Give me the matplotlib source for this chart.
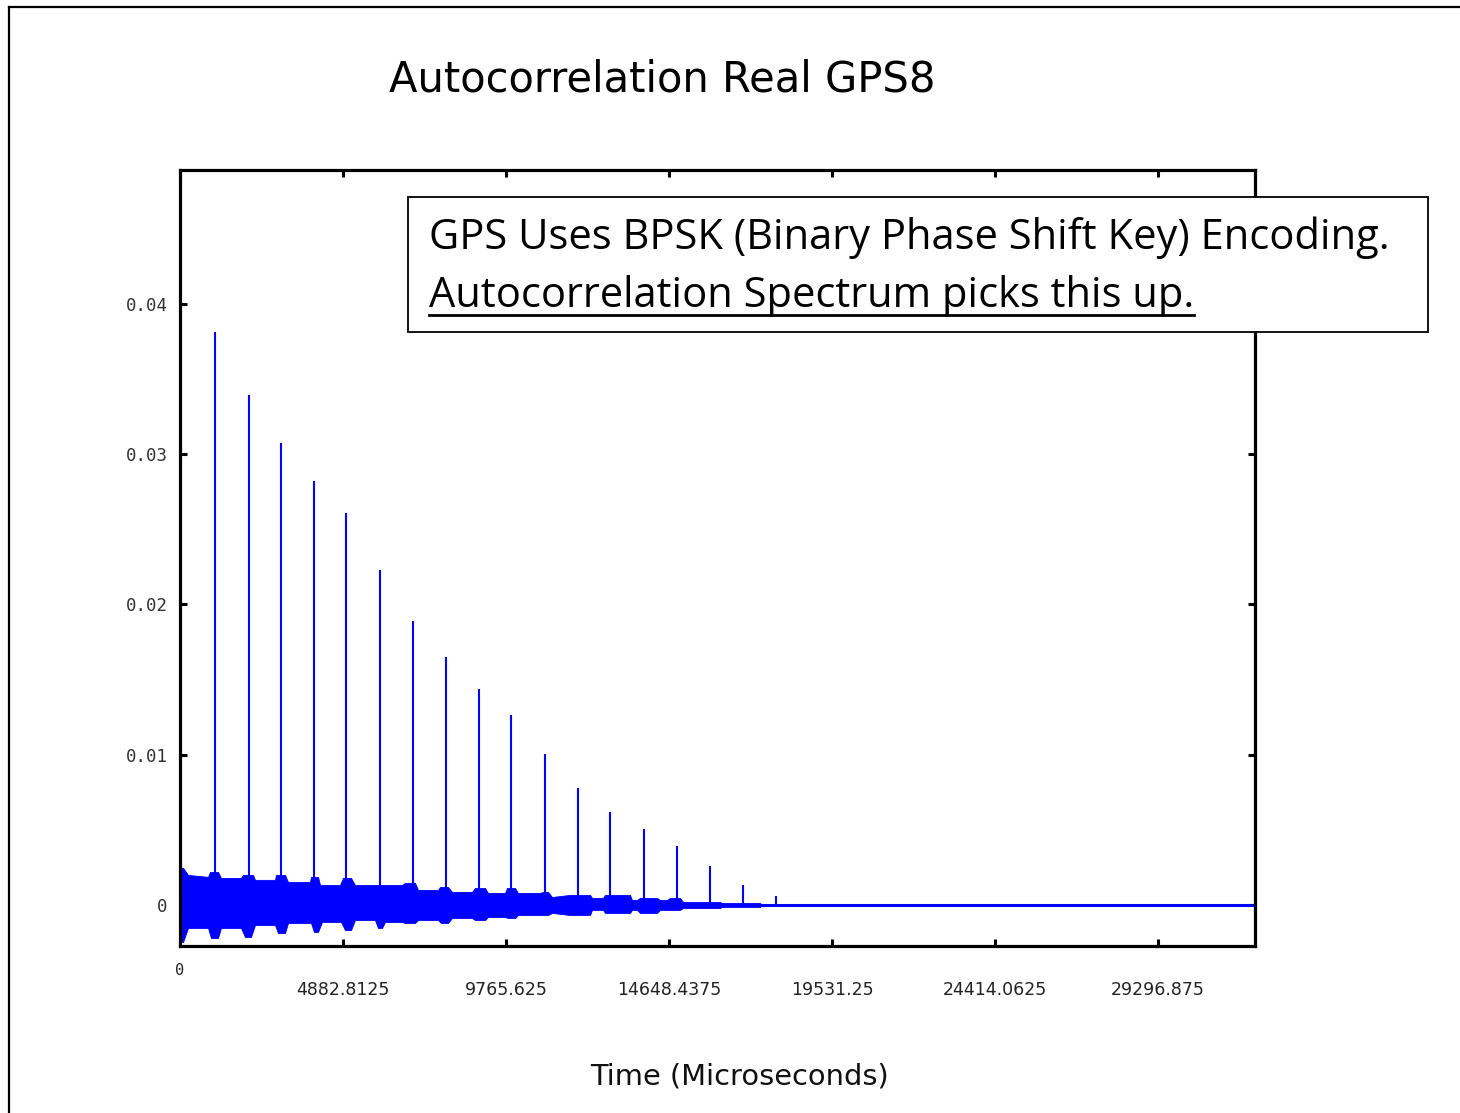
import matplotlib
matplotlib.use("Agg")
import matplotlib.pyplot as plt
from matplotlib.lines import Line2D
from matplotlib.patches import Rectangle

# ---------------- data ----------------
peak_x = [1048, 2067, 3026, 4014, 4973, 5991, 6980, 7968, 8957, 9915,
          10934, 11922, 12881, 13900, 14888, 15877, 16865, 17854]
peak_h = [0.03813, 0.03393, 0.03073, 0.02820, 0.02607, 0.02227, 0.01887,
          0.01647, 0.01440, 0.01267, 0.01007, 0.00780, 0.00620, 0.00507,
          0.00393, 0.00260, 0.00133, 0.00060]

# upper envelope of the dense noise band
upper_x = [0, 90, 240, 839, 899, 1138, 1228, 1827, 1887, 2187, 2247, 2846,
           2876, 3145, 3235, 3894, 3924, 4134, 4194, 4793, 4883, 5122, 5242,
           6650, 6740, 7040, 7130, 7729, 7789, 8028, 8148, 8747, 8837, 9137,
           9226, 9736, 9796, 10035, 10125, 10784, 10874, 11024, 11144, 11683,
           12282, 12342, 12671, 12731, 13480, 13540, 13690, 13780, 14289,
           14379, 14588, 14678, 14978, 15068, 16176, 16236, 17374, 17434]
upper_y = [0.00247, 0.00247, 0.00200, 0.00187, 0.00220, 0.00220, 0.00180,
           0.00180, 0.00200, 0.00200, 0.00167, 0.00167, 0.00200, 0.00200,
           0.00153, 0.00153, 0.00187, 0.00187, 0.00133, 0.00133, 0.00180,
           0.00180, 0.00133, 0.00133, 0.00147, 0.00147, 0.00100, 0.00100,
           0.00120, 0.00120, 0.00087, 0.00087, 0.00113, 0.00113, 0.00080,
           0.00080, 0.00113, 0.00113, 0.00080, 0.00080, 0.00087, 0.00087,
           0.00053, 0.00067, 0.00067, 0.00047, 0.00047, 0.00067, 0.00067,
           0.00033, 0.00033, 0.00047, 0.00047, 0.00033, 0.00033, 0.00047,
           0.00047, 0.00020, 0.00020, 0.00013, 0.00013, 0.0]

# lower envelope of the dense noise band
lower_x = [0, 90, 240, 839, 929, 1138, 1228, 1827, 1947, 2127, 2247, 2846,
           2936, 3145, 3235, 3924, 4014, 4134, 4254, 4823, 4943, 5122, 5242,
           5841, 5931, 6051, 6141, 6650, 6740, 7040, 7130, 7729, 7819, 8028,
           8148, 8747, 8837, 9137, 9226, 9736, 9826, 10035, 10125, 11024,
           11144, 11683, 12282, 12342, 12671, 12731, 13480, 13540, 13690,
           13780, 14289, 14379, 14978, 15068, 16176, 16236, 17374, 17434]
lower_y = [-0.00247, -0.00247, -0.00153, -0.00153, -0.00220, -0.00220,
           -0.00153, -0.00153, -0.00213, -0.00213, -0.00133, -0.00133,
           -0.00187, -0.00187, -0.00120, -0.00120, -0.00180, -0.00180,
           -0.00113, -0.00113, -0.00167, -0.00167, -0.00100, -0.00100,
           -0.00153, -0.00153, -0.00113, -0.00113, -0.00120, -0.00120,
           -0.00100, -0.00100, -0.00120, -0.00120, -0.00087, -0.00087,
           -0.00100, -0.00100, -0.00080, -0.00080, -0.00087, -0.00087,
           -0.00067, -0.00067, -0.00053, -0.00067, -0.00067, -0.00033,
           -0.00033, -0.00053, -0.00053, -0.00033, -0.00033, -0.00053,
           -0.00053, -0.00033, -0.00033, -0.00020, -0.00020, -0.00013,
           -0.00013, 0.0]

x_limits = [0, 32203]
y_limits = [-0.00273, 0.0489]
xticks = [0, 4882.8125, 9765.625, 14648.4375, 19531.25, 24414.0625, 29296.875]
xtick_labels = ["0", "4882.8125", "9765.625", "14648.4375", "19531.25",
                "24414.0625", "29296.875"]
yticks = [0, 0.01, 0.02, 0.03, 0.04]
ytick_labels = ["0", "0.01", "0.02", "0.03", "0.04"]

title_text = "Autocorrelation Real GPS8"
xlabel_text = "Time (Microseconds)"
note_line1 = "GPS Uses BPSK (Binary Phase Shift Key) Encoding."
note_line2 = "Autocorrelation Spectrum picks this up."

BLUE = "#0000ff"
W, H = 1460, 1113

# ---------------- figure ----------------
fig = plt.figure(figsize=(W / 100, H / 100), dpi=100)
fig.patch.set_facecolor("white")

def fx(px):
    return px / W

def fy(py):
    return 1 - py / H

ax = fig.add_axes([fx(180), fy(946), (1255 - 180) / W, (946 - 170) / H])

ax.fill_between(upper_x, 0, upper_y, color=BLUE, lw=0.6, edgecolor=BLUE)
ax.fill_between(lower_x, lower_y, 0, color=BLUE, lw=0.6, edgecolor=BLUE)
ax.axhline(0, color=BLUE, lw=2.2)
ax.vlines(peak_x, 0, peak_h, color=BLUE, lw=1.5)

ax.set_xlim(x_limits)
ax.set_ylim(y_limits)
ax.set_xticks(xticks)
ax.set_xticklabels(xtick_labels)
ax.set_yticks(yticks)
ax.set_yticklabels(ytick_labels)

for s in ax.spines.values():
    s.set_linewidth(2.3)
    s.set_color("black")

ax.tick_params(direction="in", top=True, right=True, length=5, width=2.2,
               colors="black")
ax.tick_params(axis="x", pad=25, labelsize=12.5, labelcolor="#222222")
ax.tick_params(axis="y", pad=9, labelsize=12.5, labelcolor="#333333")
for lab in ax.get_yticklabels():
    lab.set_fontfamily("DejaVu Sans Mono")
xl = ax.get_xticklabels()
xl[0].set_fontfamily("DejaVu Sans Mono")
xl[0].set_fontsize(11)
ax.xaxis.get_major_ticks()[0].set_pad(12)

# title and axis label
fig.text(fx(662), fy(80), title_text, ha="center", va="center",
         fontsize=30, color="black",
         family=["Liberation Sans Narrow", "DejaVu Sans"])
fig.text(fx(740), fy(1076), xlabel_text, ha="center", va="center",
         fontsize=20.8, color="#111111",
         family=["Liberation Sans Narrow", "DejaVu Sans"])

# slide frame
fig.add_artist(Line2D([fx(9), 1.0], [fy(7), fy(7)], transform=fig.transFigure,
                      color="black", lw=1.6))
fig.add_artist(Line2D([fx(9), fx(9)], [fy(7), 0.0], transform=fig.transFigure,
                      color="black", lw=1.6))

# annotation box
fig.add_artist(Rectangle((fx(408), fy(332)), (1428 - 408) / W, (332 - 197) / H,
                         transform=fig.transFigure, facecolor="white",
                         edgecolor="black", lw=1.3, zorder=5))
t1 = fig.text(fx(429), fy(249), note_line1, ha="left", va="baseline",
              fontsize=30, family="Open Sans", color="black", zorder=6)
t2 = fig.text(fx(429), fy(307), note_line2, ha="left", va="baseline",
              fontsize=30, family="Open Sans", color="black", zorder=6)

fig.canvas.draw()
bb = t2.get_window_extent()
fig.add_artist(Line2D([bb.x0 / W, bb.x1 / W], [fy(315), fy(315)],
                      transform=fig.transFigure, color="black", lw=2.0,
                      zorder=6))

fig.savefig("out.png", dpi=100, facecolor="white")
